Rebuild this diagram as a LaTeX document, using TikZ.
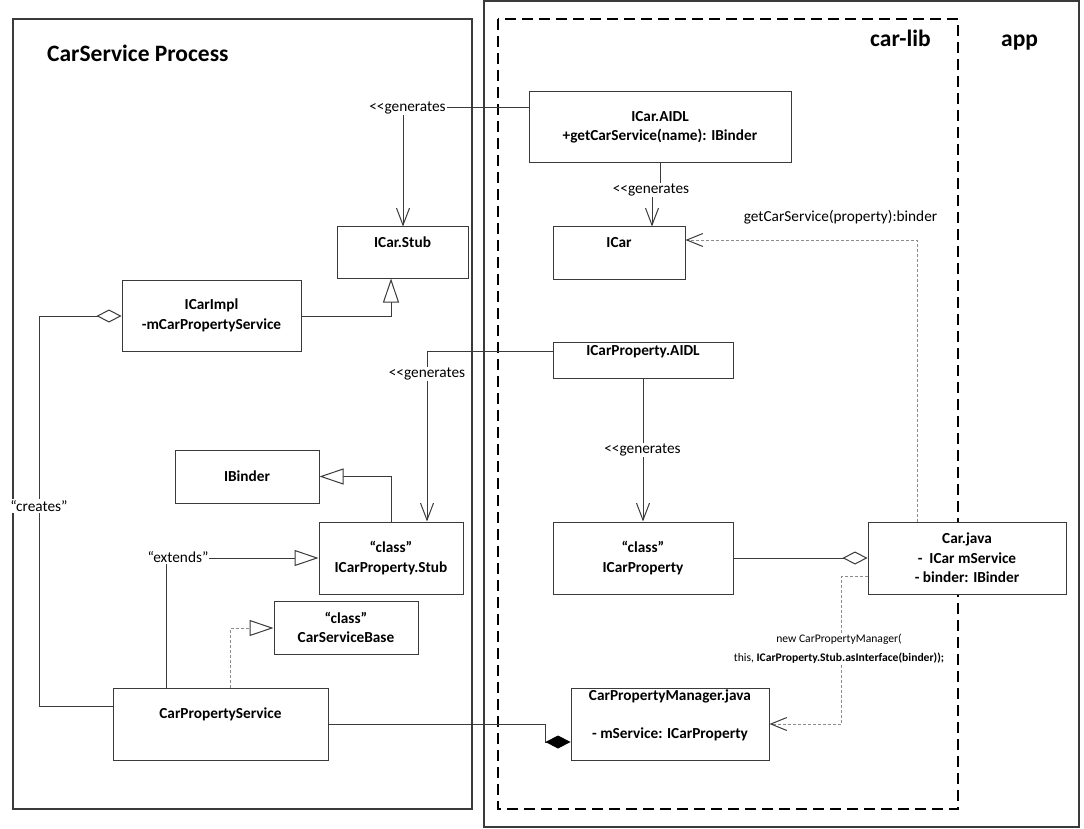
\documentclass[tikz,border=0pt]{standalone}
\usepackage{fontspec}
\setmainfont{Carlito}
\usetikzlibrary{arrows.meta,calc}

\definecolor{ink}{HTML}{3A3A3A}
\definecolor{dashgray}{HTML}{8C8C8C}

% fonts used in the class diagram
\newcommand\clsfont{\fontsize{15.3}{19.5}\selectfont\bfseries}
\newcommand\notefont{\fontsize{15.3}{18}\selectfont}
\newcommand\headfont{\fontsize{23.5}{28}\selectfont\bfseries}
\newcommand\codefont{\fontsize{11.6}{19}\selectfont}

\begin{document}
\begin{tikzpicture}[x=1pt,y=-1pt,
  frame/.style={draw=ink, line width=1.1pt},
  libframe/.style={draw=black, line width=1.3pt, dash pattern=on 11pt off 6pt},
  box/.style={draw=ink, line width=1pt, fill=white, inner sep=0pt, align=center, font=\clsfont},
  clstext/.style={inner sep=0pt, font=\clsfont, text height=9.8pt, text depth=0pt},
  heading/.style={inner sep=0pt, font=\headfont, anchor=base west},
  note/.style={inner sep=1pt, fill=white, font=\notefont},
  conn/.style={draw=ink, line width=1pt},
  assoc/.style={conn, -{Straight Barb[length=17pt,width=13pt]}},
  gen/.style={conn, -{Triangle[open,length=24pt,width=16pt,fill=white]}},
  agg/.style={conn, -{Diamond[open,length=25pt,width=13pt,fill=white]}},
  comp/.style={conn, -{Diamond[length=25pt,width=13pt,fill=black,color=black]}},
  dep/.style={draw=dashgray, line width=1pt, dash pattern=on 3pt off 2pt,
              -{Straight Barb[length=16pt,width=13pt,color=ink]}},
  real/.style={draw=dashgray, line width=1pt, dash pattern=on 3pt off 2pt,
              -{Triangle[open,length=24pt,width=16pt,fill=white,color=ink]}},
]
\useasboundingbox (0,0) rectangle (1084,829);

% process / module frames
\draw[frame] (13,19) rectangle (472,809);
\draw[frame] (484,1) rectangle (1079,827);
\draw[libframe] (498,19) rectangle (958,809);

\node[heading] (title-cs) at (47,62) {CarService Process};
\node[heading] (title-lib) at (870,47) {car-lib};
\node[heading] (title-app) at (1001,47) {app};

% classes
\node[box, minimum width=262pt, minimum height=71pt] (icaraidl) at (660,127.5)
  {ICar.AIDL\\+getCarService(name): IBinder};
\node[box, minimum width=132pt, minimum height=52pt] (icar) at (619,253) {};
\node[clstext] (icar-t) at (619,243) {ICar};
\node[box, minimum width=131pt, minimum height=51pt] (icarstub) at (402.5,252.5) {};
\node[clstext] (icarstub-t) at (402.5,243) {ICar.Stub};
\node[box, minimum width=179pt, minimum height=71pt] (icarimpl) at (211.5,315.5)
  {ICarImpl\\-mCarPropertyService};
\node[box, minimum width=180pt, minimum height=36pt] (icarpaidl) at (643,360) {};
\node[clstext] (icarpaidl-t) at (643,351) {ICarProperty.AIDL};
\node[box, minimum width=144pt, minimum height=53pt] (ibinder) at (247,476.5) {IBinder};
\node[box, minimum width=144pt, minimum height=72pt] (icarpstub) at (391,558)
  {“class”\\ICarProperty.Stub};
\node[box, minimum width=180pt, minimum height=72pt] (icarprop) at (643,558)
  {“class”\\ICarProperty};
\node[box, minimum width=198pt, minimum height=72pt] (carjava) at (967,558)
  {Car.java\\-\ \ ICar mService\\- binder: IBinder};
\node[box, minimum width=144pt, minimum height=53pt] (carsvcbase) at (346,627.5)
  {“class”\\CarServiceBase};
\node[box, minimum width=215pt, minimum height=72pt] (carpropsvc) at (220.5,724) {};
\node[clstext] (carpropsvc-t) at (220.5,714) {CarPropertyService};
\node[box, minimum width=198pt, minimum height=72pt] (carpropmgr) at (670,724) {};
\node[clstext] (carpropmgr-t1) at (670,696) {CarPropertyManager.java};
\node[clstext] (carpropmgr-t2) at (670,734) {- mService: ICarProperty};

% bend points
\coordinate (a1) at (403,108);
\coordinate (b1) at (660,190);
\coordinate (b2) at (652,190);
\coordinate (c1) at (427,351);
\coordinate (e1) at (391,316);
\coordinate (f1) at (39,706);
\coordinate (f2) at (39,316);
\coordinate (h1) at (166,558);
\coordinate (i1) at (230,628);
\coordinate (j1) at (545,742);
\coordinate (l1) at (917,240);
\coordinate (m1) at (841,576);

% generated code
\draw[assoc] (icaraidl.west |- a1) -- (a1) -- (a1 |- icarstub.north);
\draw[assoc] (icaraidl.south) -- (b1) -- (b2) -- (b2 |- icar.north);
\draw[assoc] (icarpaidl.west |- c1) -- (c1) -- (c1 |- icarpstub.north);
\draw[assoc] (icarpaidl.south) -- (icarprop.north);

% inheritance
\draw[gen] (icarimpl.east |- e1) -- (e1) -- (e1 |- icarstub.south);
\draw[gen] (icarpstub.north) |- (ibinder.east);
\draw[gen] (h1 |- carpropsvc.north) -- (h1) -- (icarpstub.west);
\draw[real] (i1 |- carpropsvc.north) -- (i1) -- (carsvcbase.west |- i1);

% ownership
\draw[agg] (carpropsvc.west |- f1) -- (f1) -- (f2) -- (icarimpl.west |- f2);
\draw[comp] (carpropsvc.east) -| (j1) -- (j1 -| carpropmgr.west);
\draw[agg] (icarprop.east) -- (carjava.west);

% calls from the app side
\draw[dep] (l1 |- carjava.north) -- (l1) -- (l1 -| icar.east);
\draw[dep] (carjava.west |- m1) -- (m1) |- (carpropmgr.east);

% connector labels
\node[note] (gen1) at (407.5,108) {<\kern0pt<generates};
\node[note] (gen2) at (651,190) {<\kern0pt<generates};
\node[note] (gen3) at (427,374) {<\kern0pt<generates};
\node[note] (gen4) at (642.5,450) {<\kern0pt<generates};
\node[note] (creates) at (39,506) {“creates”};
\node[note] (extends) at (178,557) {“extends”};
\node[note] (getsvc) at (840.5,217) {getCarService(property):binder};
\node[note, font=\codefont, align=center, inner sep=0pt] (newmgr) at (839,648.5)
  {new CarPropertyManager(\\this, \textbf{ICarProperty.Stub.asInterface(binder));}};
\end{tikzpicture}
\end{document}
